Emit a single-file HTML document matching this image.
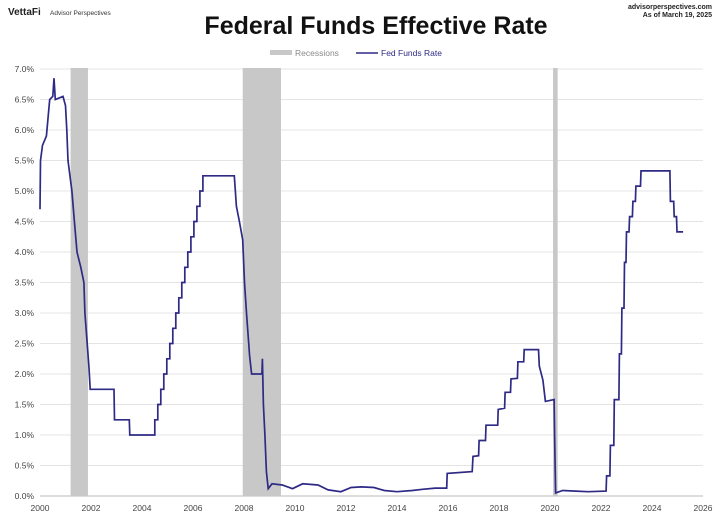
<!DOCTYPE html><html><head><style>body{margin:0;background:#fff}svg{display:block;font-family:"Liberation Sans",Arial,sans-serif}</style></head><body>
<svg id="s" width="720" height="523" viewBox="0 0 720 523">
<text x="8" y="15" font-size="10" font-weight="bold" fill="#222">VettaFi</text>
<text x="50" y="15" font-size="6.5" fill="#333">Advisor Perspectives</text>
<text x="712" y="9" font-size="7" font-weight="bold" fill="#222" text-anchor="end">advisorperspectives.com</text>
<text x="712" y="17" font-size="7" font-weight="bold" fill="#222" text-anchor="end">As of March 19, 2025</text>
<text x="376" y="34" font-size="25" font-weight="bold" fill="#111" text-anchor="middle">Federal Funds Effective Rate</text>
<rect x="270" y="50" width="22" height="5" fill="#c8c8c8"/><text x="295" y="56" font-size="8.5" fill="#888">Recessions</text>
<line x1="356" y1="53" x2="378" y2="53" stroke="#2e2a85" stroke-width="1.5"/><text x="381" y="56" font-size="8.5" fill="#2e2a85">Fed Funds Rate</text>
<g id="g"></g>
</svg>
<script>
const X=y=>40+(y-2000)*25.5, Y=r=>496-r*61;
let h='';
for(let i=0;i<=14;i++){let r=i*0.5;h+=`<line x1="40" x2="703" y1="${Y(r)}" y2="${Y(r)}" stroke="${i?'#e4e4e4':'#bbb'}" stroke-width="1"/>`;h+=`<text x="34" y="${Y(r)+3}" font-size="8.5" fill="#444" text-anchor="end">${r.toFixed(1)}%</text>`;}
for(let yr=2000;yr<=2026;yr+=2)h+=`<text x="${X(yr)}" y="511" font-size="8.5" fill="#444" text-anchor="middle">${yr}</text>`;
[[2001.2,2001.88],[2007.95,2009.45],[2020.12,2020.3]].forEach(a=>h+=`<rect x="${X(a[0])}" y="68" width="${X(a[1])-X(a[0])}" height="428" fill="#c8c8c8"/>`);
let p=[[2000,4.7],[2000.02,5.5],[2000.1,5.75],[2000.25,5.9],[2000.38,6.5],[2000.5,6.55],[2000.55,6.85],[2000.6,6.5],[2000.9,6.55],[2001.0,6.4],[2001.05,6.0],[2001.1,5.5],[2001.25,5.0],[2001.35,4.5],[2001.45,4.0],[2001.6,3.75],[2001.72,3.5],[2001.76,3.0],[2001.85,2.5],[2001.92,2.1],[2001.97,1.75],[2002.9,1.75],[2002.92,1.25],[2003.5,1.25],[2003.52,1.0],[2004.48,1.0]];
let r=1.0;for(let t=2004.5;r<5.25;t+=0.118){r+=0.25;p.push([t,r-0.25],[t,r]);}
p.push([2007.62,5.25],[2007.7,4.75],[2007.82,4.5],[2007.95,4.2],[2008.02,3.5],[2008.1,3.0],[2008.22,2.3],[2008.3,2.0],[2008.7,2.0],[2008.72,2.25],[2008.76,1.5],[2008.82,1.0],[2008.88,0.4],[2008.95,0.12],[2009.1,0.2],[2009.5,0.18],[2009.9,0.12],[2010.3,0.2],[2010.9,0.18],[2011.3,0.1],[2011.8,0.07],[2012.2,0.14],[2012.6,0.15],[2013.1,0.14],[2013.5,0.09],[2014.0,0.07],[2014.6,0.09],[2015.0,0.11],[2015.5,0.13],[2015.95,0.13],[2015.97,0.37],[2016.95,0.4],[2016.98,0.65],[2017.2,0.66],[2017.22,0.91],[2017.47,0.91],[2017.49,1.16],[2017.95,1.16],[2017.97,1.42],[2018.22,1.44],[2018.24,1.7],[2018.45,1.7],[2018.47,1.92],[2018.72,1.93],[2018.74,2.2],[2018.97,2.2],[2018.99,2.4],[2019.55,2.4],[2019.58,2.13],[2019.72,1.9],[2019.82,1.55],[2020.16,1.58],[2020.18,1.0],[2020.22,0.05],[2020.5,0.09],[2021.0,0.08],[2021.5,0.07],[2022.2,0.08],[2022.22,0.33],[2022.35,0.33],[2022.37,0.83],[2022.5,0.83],[2022.52,1.58],[2022.7,1.58],[2022.72,2.33],[2022.8,2.33],[2022.82,3.08],[2022.9,3.08],[2022.92,3.83],[2022.98,3.83],[2023.0,4.33],[2023.1,4.33],[2023.12,4.58],[2023.23,4.58],[2023.25,4.83],[2023.35,4.83],[2023.37,5.08],[2023.55,5.08],[2023.57,5.33],[2024.7,5.33],[2024.72,4.83],[2024.85,4.83],[2024.87,4.58],[2024.96,4.58],[2024.98,4.33],[2025.22,4.33]);
h+=`<polyline fill="none" stroke="#2e2a85" stroke-width="1.7" points="${p.map(q=>X(q[0]).toFixed(1)+','+Y(q[1]).toFixed(1)).join(' ')}"/>`;
document.getElementById('g').innerHTML=h;
</script></body></html>
